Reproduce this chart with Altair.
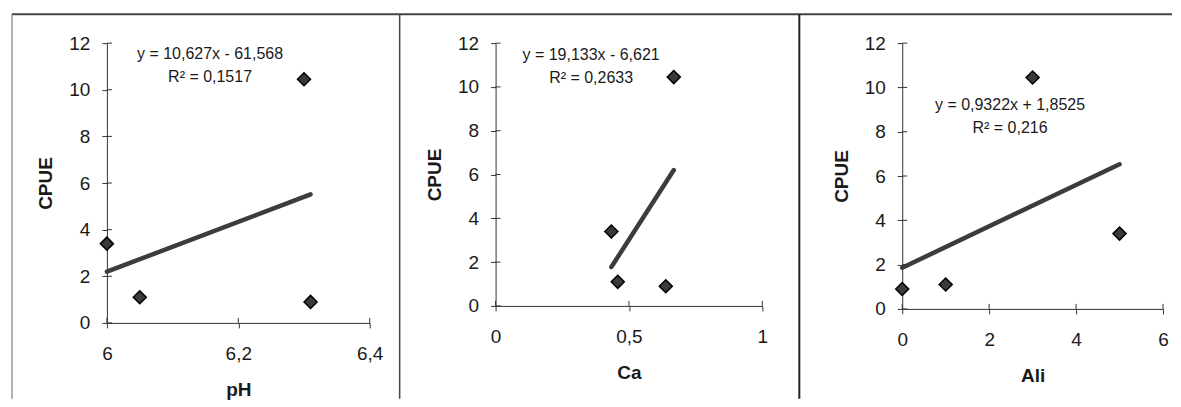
import altair as alt
import pandas as pd

# ---- data ----
cpue = [3.4, 1.1, 10.45, 0.9]
ph = [6.0, 6.05, 6.30, 6.31]
ca = [0.434, 0.458, 0.668, 0.638]
ali = [5, 1, 3, 0]

y_ticks = [0, 2, 4, 6, 8, 10, 12]
ph_ticks = [6.0, 6.2, 6.4]
ca_ticks = [0.0, 0.5, 1.0]
ali_ticks = [0, 2, 4, 6]

eq_ph = "y = 10,627x - 61,568\nR² = 0,1517"
eq_ca = "y = 19,133x - 6,621\nR² = 0,2633"
eq_ali = "y = 0,9322x + 1,8525\nR² = 0,216"

FONT = "Liberation Sans"
INK = "#1a1a1a"
LABEL_EXPR = "replace(toString(datum.value), '.', ',')"


def panel(xvals, xname, xdomain, xticks, eq, eq_x, eq_y, width, height, frame=False):
    df = pd.DataFrame({xname: xvals, "CPUE": cpue})
    xscale = alt.Scale(domain=xdomain, nice=False, zero=False)
    yscale = alt.Scale(domain=[0, 12], nice=False, zero=False)
    xaxis = alt.Axis(values=xticks, labelExpr=LABEL_EXPR, title=xname, grid=False,
                     labelFlush=False, labelOverlap=False, tickSize=5,
                     labelPadding=17, titlePadding=17)
    yaxis = alt.Axis(values=y_ticks, title="CPUE", grid=False, tickSize=5,
                     labelPadding=12, titlePadding=13)
    X = alt.X(f"{xname}:Q", scale=xscale, axis=xaxis)
    Y = alt.Y("CPUE:Q", scale=yscale, axis=yaxis)

    pts = alt.Chart(df).mark_point(shape="diamond", filled=True, size=170,
                                   color="#3a3a3a", stroke="#000000",
                                   strokeWidth=1.5, opacity=1).encode(x=X, y=Y)
    reg = alt.Chart(df).transform_regression(xname, "CPUE").mark_line(
        color="#3c3c3c", strokeWidth=4.5, strokeCap="round").encode(x=X, y=Y)

    ytk = alt.Chart(pd.DataFrame({"CPUE": y_ticks})).mark_rule(
        color="#333", strokeWidth=1).encode(y=Y, x=alt.value(0), x2=alt.value(5))
    xtk = alt.Chart(pd.DataFrame({xname: xticks})).mark_rule(
        color="#333", strokeWidth=1).encode(x=X, y=alt.value(height - 5), y2=alt.value(height))

    txt = alt.Chart(pd.DataFrame({xname: [eq_x], "CPUE": [eq_y], "t": [eq]})).mark_text(
        font=FONT, fontSize=16, color=INK, lineBreak="\n", lineHeight=23,
        align="center", baseline="middle").encode(x=X, y=Y, text="t:N")

    layers = [reg, pts, ytk, xtk, txt]
    if frame:
        d = pd.DataFrame({"a": [0]})
        top = alt.Chart(d).mark_rule(color="#444", strokeWidth=2).encode(
            x=alt.value(-95), x2=alt.value(1066), y=alt.value(-29))
        left = alt.Chart(d).mark_rule(color="#666", strokeWidth=1).encode(
            x=alt.value(-95), y=alt.value(-29), y2=alt.value(356))
        sep1 = alt.Chart(d).mark_rule(color="#444", strokeWidth=1.5).encode(
            x=alt.value(293), y=alt.value(-29), y2=alt.value(356))
        sep2 = alt.Chart(d).mark_rule(color="#222", strokeWidth=2).encode(
            x=alt.value(693), y=alt.value(-29), y2=alt.value(356))
        layers += [top, left, sep1, sep2]
    return alt.layer(*layers).properties(width=width, height=height)


def spacer(w):
    return alt.Chart(pd.DataFrame({"a": [0]})).mark_point(opacity=0).encode(
        x=alt.value(0), y=alt.value(0)).properties(width=w, height=10)


p1 = panel(ph, "pH", [6.0, 6.4], ph_ticks, eq_ph, 6.157, 11.55, 263, 280, frame=True)
p2 = panel(ca, "Ca", [0, 1], ca_ticks, eq_ca, 0.358, 11.47, 267, 263)
p3 = panel(ali, "Ali", [0, 6], ali_ticks, eq_ali, 2.48, 9.22, 261, 266)

chart = alt.hconcat(p1, spacer(126), p2, spacer(140), p3, spacing=0, bounds="flush").properties(
    padding={"left": 3, "top": 5, "right": 0, "bottom": 0}
).configure(background="white").configure_view(
    strokeWidth=0, stroke="transparent"
).configure_axis(
    labelFont=FONT, titleFont=FONT, labelFontSize=19, titleFontSize=19,
    titleFontWeight="bold", labelColor=INK, titleColor=INK,
    domainColor="#333", tickColor="#333", domainWidth=1, tickWidth=1
)

chart.save("out.html", embed_options={"renderer": "svg", "actions": False})
